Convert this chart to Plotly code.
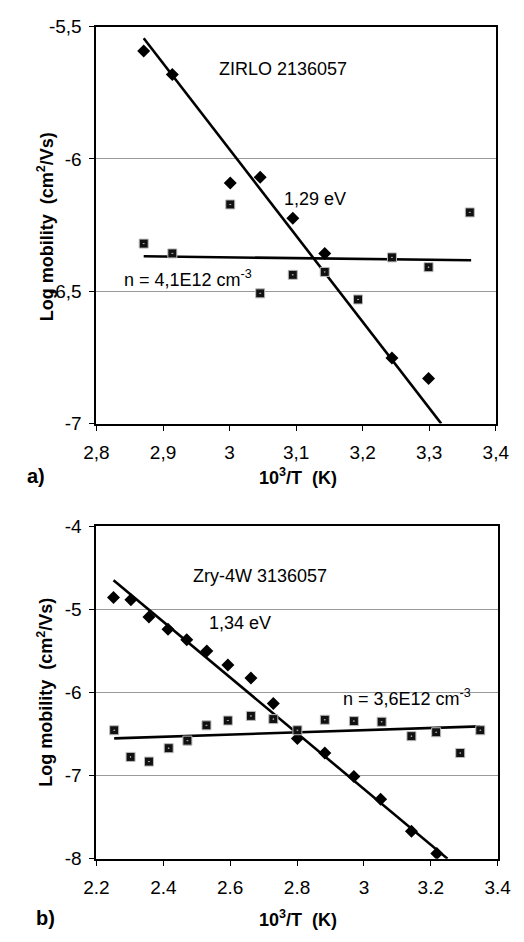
import plotly.graph_objects as go

# ---- (a) ZIRLO 2136057 ----
a_dia_x = [2.871, 2.914, 3.001, 3.046, 3.095, 3.143, 3.244, 3.299]
a_dia_y = [-5.592, -5.681, -6.091, -6.069, -6.224, -6.357, -6.752, -6.830]
a_sq_x = [2.871, 2.914, 3.001, 3.046, 3.095, 3.143, 3.193, 3.244, 3.299, 3.361]
a_sq_y = [-6.320, -6.357, -6.172, -6.508, -6.438, -6.427, -6.531, -6.372, -6.409, -6.202]
a_fit1_x = [2.871, 3.318]
a_fit1_y = [-5.544, -7.0]
a_fit2_x = [2.871, 3.363]
a_fit2_y = [-6.368, -6.383]
a_xticks = [2.8, 2.9, 3.0, 3.1, 3.2, 3.3, 3.4]
a_xlabels = ["2,8", "2,9", "3", "3,1", "3,2", "3,3", "3,4"]
a_yticks = [-5.5, -6.0, -6.5, -7.0]
a_ylabels = ["-5,5", "-6", "-6,5", "-7"]

# ---- (b) Zry-4W 3136057 ----
b_dia_x = [2.251, 2.303, 2.357, 2.414, 2.470, 2.530, 2.593, 2.662, 2.729,
           2.801, 2.883, 2.970, 3.050, 3.142, 3.218]
b_dia_y = [-4.859, -4.886, -5.091, -5.239, -5.365, -5.502, -5.671, -5.827, -6.133,
           -6.553, -6.729, -7.012, -7.286, -7.671, -7.938]
b_sq_x = [2.253, 2.302, 2.357, 2.416, 2.472, 2.529, 2.593, 2.662, 2.729,
          2.801, 2.883, 2.970, 3.053, 3.142, 3.216, 3.288, 3.348]
b_sq_y = [-6.455, -6.776, -6.832, -6.671, -6.580, -6.396, -6.338, -6.282, -6.321,
          -6.455, -6.329, -6.345, -6.353, -6.526, -6.479, -6.729, -6.455]
b_fit1_x = [2.251, 3.250]
b_fit1_y = [-4.651, -8.0]
b_fit2_x = [2.253, 3.348]
b_fit2_y = [-6.553, -6.408]
b_xticks = [2.2, 2.4, 2.6, 2.8, 3.0, 3.2, 3.4]
b_xlabels = ["2.2", "2.4", "2.6", "2.8", "3", "3.2", "3.4"]
b_yticks = [-4, -5, -6, -7, -8]
b_ylabels = ["-4", "-5", "-6", "-7", "-8"]

W, H = 524, 942
FONT = "Liberation Sans, Arial, sans-serif"

fig = go.Figure()


def add_panel(xa, ya, dx, dy, sx, sy, f1x, f1y, f2x, f2y):
    fig.add_trace(go.Scatter(x=f1x, y=f1y, mode="lines", xaxis=xa, yaxis=ya,
                             line=dict(color="black", width=2.6), showlegend=False))
    fig.add_trace(go.Scatter(x=f2x, y=f2y, mode="lines", xaxis=xa, yaxis=ya,
                             line=dict(color="black", width=2.6), showlegend=False))
    fig.add_trace(go.Scatter(x=dx, y=dy, mode="markers", xaxis=xa, yaxis=ya,
                             marker=dict(symbol="diamond", size=10, color="black"),
                             showlegend=False))
    fig.add_trace(go.Scatter(x=sx, y=sy, mode="markers", xaxis=xa, yaxis=ya,
                             marker=dict(symbol="square-dot", size=9, color="#111",
                                         line=dict(color="#bbb", width=1)),
                             showlegend=False))


add_panel("x", "y", a_dia_x, a_dia_y, a_sq_x, a_sq_y, a_fit1_x, a_fit1_y, a_fit2_x, a_fit2_y)
add_panel("x2", "y2", b_dia_x, b_dia_y, b_sq_x, b_sq_y, b_fit1_x, b_fit1_y, b_fit2_x, b_fit2_y)

axis_common = dict(showline=True, linecolor="black", linewidth=2, mirror=True,
                   ticks="outside", ticklen=5, tickcolor="black",
                   tickfont=dict(family=FONT, size=19, color="black"),
                   zeroline=False)

fig.update_layout(
    width=W, height=H,
    margin=dict(l=0, r=0, t=0, b=0),
    paper_bgcolor="white", plot_bgcolor="white",
    font=dict(family=FONT, color="black"),
    xaxis=dict(domain=[88 / W, 509 / W], range=[2.8, 3.4], anchor="y",
               tickvals=a_xticks, ticktext=a_xlabels, showgrid=False,
               ticklabelstandoff=6, **axis_common),
    yaxis=dict(domain=[1 - 423 / H, 1 - 17 / H], range=[-7.0, -5.5], anchor="x",
               tickvals=a_yticks, ticktext=a_ylabels, showgrid=True,
               gridcolor="#999", gridwidth=1, ticklabelstandoff=4, **axis_common),
    xaxis2=dict(domain=[88 / W, 511 / W], range=[2.2, 3.4], anchor="y2",
                tickvals=b_xticks, ticktext=b_xlabels, showgrid=False,
                ticklabelstandoff=6, **axis_common),
    yaxis2=dict(domain=[1 - 868 / H, 1 - 528 / H], range=[-8, -4], anchor="x2",
                tickvals=b_yticks, ticktext=b_ylabels, showgrid=True,
                gridcolor="#999", gridwidth=1, ticklabelstandoff=4, **axis_common),
)


def py(v):
    return 1 - v / H


def px(v):
    return v / W


ann = []
txt = dict(family=FONT, size=18, color="black")
bold = dict(family=FONT, size=18, color="black", weight="bold")
centered = dict(showarrow=False, xanchor="center", yanchor="middle")

# in-plot labels
ann.append(dict(x=3.081, y=-5.659, xref="x", yref="y", text="ZIRLO 2136057",
                font=txt, **centered))
ann.append(dict(x=3.129, y=-6.150, xref="x", yref="y", text="1,29 eV",
                font=txt, **centered))
ann.append(dict(x=2.937, y=-6.453, xref="x", yref="y", text="n = 4,1E12 cm<sup>-3</sup>",
                font=txt, **centered))
ann.append(dict(x=2.688, y=-4.60, xref="x2", yref="y2", text="Zry-4W 3136057",
                font=txt, **centered))
ann.append(dict(x=2.628, y=-5.165, xref="x2", yref="y2", text="1,34 eV",
                font=txt, **centered))
ann.append(dict(x=3.128, y=-6.06, xref="x2", yref="y2", text="n = 3,6E12 cm<sup>-3</sup>",
                font=txt, **centered))

# axis titles and panel letters
for letter, ymid, ytitle, letter_x in [("a)", 222, 477, 13), ("b)", 698, 929, 22)]:
    ann.append(dict(x=px(34), y=py(ymid), xref="paper", yref="paper",
                    text="Log mobility  (cm<sup>2</sup>/Vs)", textangle=-90,
                    font=bold, **centered))
    ann.append(dict(x=px(300), y=py(ytitle), xref="paper", yref="paper",
                    text="10<sup>3</sup>/T  (K)", font=bold, **centered))
    ann.append(dict(x=px(letter_x), y=py(ytitle), xref="paper", yref="paper",
                    xanchor="left", yanchor="middle", showarrow=False, text=letter,
                    font=dict(family=FONT, size=20, color="black", weight="bold")))

fig.update_layout(annotations=ann)
fig.write_html("out.html")
